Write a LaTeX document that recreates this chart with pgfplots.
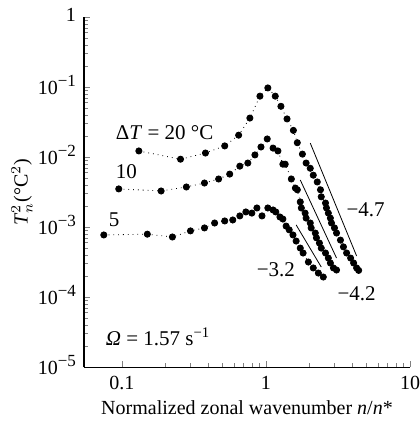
\documentclass[border=0pt]{standalone}
\usepackage{pgfplots}
\pgfplotsset{compat=1.18}
\usepackage{fontspec}
\setmainfont{Liberation Serif}
\newcommand\tp[1]{10\raisebox{0.8ex}{\fontsize{8.5}{9}\selectfont −#1}}
\begin{document}
\begin{tikzpicture}
\begin{axis}[
 scale only axis, width=163pt, height=175pt,
 xmode=log, ymode=log,
 xmin=0.0545, xmax=10, ymin=1e-5, ymax=1,
 axis x line*=bottom, axis y line*=left,
 y axis line style={line width=1pt},
 x axis line style={line width=0.5pt},
 tick align=inside,
 major tick length=3pt, minor tick length=1.8pt,
 xtick={0.1,1,10}, xticklabels={0.1,1,10},
 ytick={1e-5,1e-4,1e-3,1e-2,1e-1,1},
 yticklabels={\tp{5},\tp{4},\tp{3},\tp{2},\tp{1},1},
 tick label style={font=\fontsize{10}{11}\selectfont},
 yticklabel style={xshift=-0.5pt, yshift=1pt},
 xticklabel style={yshift=-1pt},
 label style={font=\fontsize{10}{12}\selectfont},
 xlabel={Normalized zonal wavenumber \textit{n}/\textit{n}*},
 ylabel={\textit{T}$_n^2$(°C$^2$)},
 ylabel style={at={(axis description cs:0,0.5)}, anchor=center, yshift=31pt},
 xlabel style={at={(axis description cs:0.5,0)}, anchor=center, yshift=-20.5pt},
 every axis plot/.append style={black, line width=0.4pt},
 clip=false,
]
% 20 C
\addplot[dotted, mark=*, mark size=1.55pt, mark options={solid}] coordinates {
(0.131,0.0122) (0.255,0.0093) (0.38,0.0114) (0.517,0.0144) (0.646,0.0205)
(0.773,0.036) (0.908,0.074) (1.03,0.097) (1.16,0.074) (1.27,0.053)
(1.40,0.035) (1.55,0.024) (1.65,0.016) (1.79,0.011) (1.9,0.0082)
(2.03,0.0069) (2.13,0.0055) (2.27,0.0044) (2.39,0.0034) (2.42,0.0027)
(2.59,0.0022) (2.63,0.00187) (2.71,0.00158) (2.8,0.00134) (2.85,0.00114)
(2.99,0.00097) (3.09,0.00082) (3.29,0.00065) (3.45,0.00052) (3.63,0.000425)
(3.87,0.00036) (4.06,0.000306) (4.26,0.00026) (4.4,0.00024)
};
% 10 C
\addplot[dotted, mark=*, mark size=1.55pt, mark options={solid}] coordinates {
(0.095,0.0035) (0.187,0.00327) (0.28,0.00373) (0.374,0.00425) (0.469,0.00485)
(0.56,0.0057) (0.658,0.0074) (0.748,0.0082) (0.838,0.0107) (0.923,0.0139)
(1.02,0.0181) (1.12,0.0134) (1.21,0.0122) (1.31,0.0079) (1.36,0.0079)
(1.5,0.00485) (1.6,0.0036) (1.65,0.0034) (1.73,0.00228) (1.76,0.00187)
(1.87,0.00158) (1.9,0.00134) (2.03,0.00114) (2.06,0.00097) (2.2,0.00082)
(2.24,0.0007) (2.35,0.00059) (2.42,0.0005) (2.59,0.000425) (2.71,0.00036)
(2.8,0.000306) (2.94,0.00026) (3.09,0.000243)
};
% 5 C
\addplot[dotted, mark=*, mark size=1.55pt, mark options={solid}] coordinates {
(0.0748,0.00077) (0.150,0.00079) (0.224,0.00072) (0.299,0.00088) (0.374,0.00097)
(0.44,0.00114) (0.517,0.00122) (0.588,0.00126) (0.658,0.00144) (0.725,0.00164)
(0.798,0.00158) (0.865,0.00187) (0.938,0.00144) (1.03,0.00187) (1.12,0.00175)
(1.17,0.00164) (1.25,0.00139) (1.31,0.0013) (1.38,0.00103) (1.45,0.00091)
(1.54,0.00077) (1.62,0.00063) (1.73,0.0005) (1.81,0.000425) (1.97,0.000316)
(2.13,0.00026) (2.31,0.00022) (2.5,0.000193)
};
% slope lines
\addplot[solid, mark=none] coordinates {(2.03,0.0158) (4.26,0.000385)};
\addplot[solid, mark=none] coordinates {(1.73,0.0047) (3.09,0.00036)};
\addplot[solid, mark=none] coordinates {(1.62,0.00107) (2.42,0.000268)};
% labels
\node[anchor=west, font=\fontsize{10.5}{12}\selectfont] at (axis cs:0.081,0.022) {Δ\textit{T} = 20 °C};
\node[anchor=west, font=\fontsize{10.5}{12}\selectfont] at (axis cs:0.081,0.0061) {10};
\node[anchor=west, font=\fontsize{10.5}{12}\selectfont] at (axis cs:0.0724,0.00126) {5};
\node[anchor=west, font=\fontsize{10.5}{12}\selectfont] at (axis cs:0.069,2.68e-5) {\textit{Ω} = 1.57 s\textsuperscript{−1}};
\node[font=\fontsize{10.5}{12}\selectfont] at (axis cs:4.92,0.00175) {−4.7};
\node[font=\fontsize{10.5}{12}\selectfont] at (axis cs:1.17,0.000243) {−3.2};
\node[font=\fontsize{10.5}{12}\selectfont] at (axis cs:4.26,0.00011) {−4.2};
\coordinate (sw) at (rel axis cs:0,0);
\coordinate (ne) at (rel axis cs:1,1);
\end{axis}
\pgfresetboundingbox
\path ([shift={(-42pt,-28pt)}]sw) rectangle ([shift={(4.5pt,8.5pt)}]ne);
\end{tikzpicture}
\end{document}
